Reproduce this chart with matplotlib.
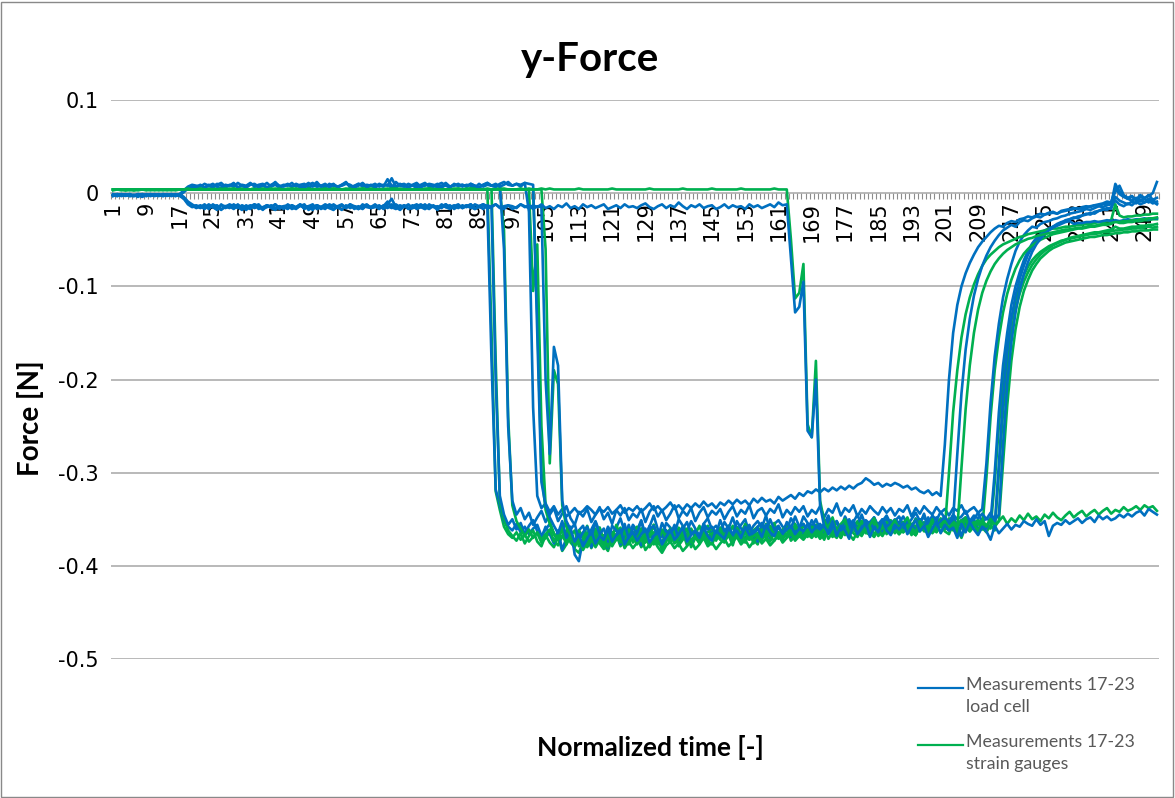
import numpy as np
import matplotlib
matplotlib.use("Agg")
import matplotlib.pyplot as plt
from matplotlib.lines import Line2D
from matplotlib.patches import Rectangle

# normalized time steps 1..252, labelled every 8th step
categories = list(range(1, 253))
tick_categories = list(range(1, 250, 8))
y_ticks = [0.1, 0.0, -0.1, -0.2, -0.3, -0.4, -0.5]
y_tick_labels = ["0.1", "0", "-0.1", "-0.2", "-0.3", "-0.4", "-0.5"]
legend_labels = ["Measurements 17-23\nload cell", "Measurements 17-23\nstrain gauges"]

# y-force in mN, rows of 21 steps (1-21, 22-42, ...)
# load cell, measurements 17-23
lc17 = [-2,-3,-2,-1,-3,-2,-2,-4,-2,-1,-3,-2,-2,-3,-1,-2,-3,-6,-12,-15,-14,
        -16,-13,-17,-12,-15,-18,-14,-13,-16,-12,-17,-15,-13,-16,-14,-18,-13,-15,-12,-16,-14,
        -13,-17,-15,-12,-16,-14,-18,-13,-15,-17,-12,-14,-16,-13,-15,-12,-17,-14,-16,-13,-15,
        -12,-16,-14,-9,-15,-17,-13,-15,-12,-16,-14,-13,-17,-12,-15,-14,-16,-12,-15,-13,-16,
        -13,-15,-12,-16,-14,-12,-14,-180,-318,-335,-352,-358,-362,-355,-364,-358,-366,-360,-356,-368,-361,
        -355,-366,-372,-360,-353,-368,-375,-362,-357,-370,-361,-352,-364,-371,-358,-366,-359,-349,-363,-368,-356,
        -362,-351,-367,-358,-346,-361,-369,-354,-359,-366,-350,-357,-363,-352,-360,-368,-355,-349,-361,-357,-364,
        -353,-360,-348,-362,-356,-350,-365,-357,-352,-359,-346,-363,-355,-351,-358,-362,-349,-356,-360,-347,-354,
        -359,-350,-361,-355,-346,-358,-352,-363,-349,-356,-351,-360,-345,-357,-353,-348,-361,-354,-350,-358,-352,
        -347,-356,-351,-360,-349,-355,-344,-358,-352,-348,-357,-350,-354,-346,-359,-351,-348,-355,-350,-343,-353,
        -349,-352,-300,-235,-185,-150,-120,-100,-85,-72,-62,-54,-48,-44,-40,-38,-36,-33,-31,-30,-28,
        -27,-25,-24,-22,-23,-20,-19,-17,-18,-15,-8,-12,-14,-11,-13,-9,-12,-10,-8,-11,-9]
lc18 = [-3,-2,-1,-2,-3,-3,-1,-2,-2,-3,-2,-1,-3,-2,-2,-3,-2,-5,-10,-13,-16,
        -14,-17,-13,-15,-18,-12,-16,-14,-17,-13,-15,-18,-14,-12,-17,-15,-13,-16,-18,-14,-15,
        -17,-13,-16,-14,-12,-18,-15,-13,-17,-14,-16,-12,-15,-18,-13,-16,-14,-17,-12,-15,-16,
        -14,-17,-13,-16,-12,-15,-18,-14,-16,-13,-17,-15,-12,-16,-14,-18,-13,-15,-17,-14,-12,
        -16,-13,-15,-17,-14,-12,-16,-15,-200,-325,-345,-356,-350,-361,-354,-366,-357,-351,-363,-370,-358,
        -366,-376,-362,-383,-370,-358,-388,-395,-372,-364,-380,-368,-359,-374,-381,-366,-360,-377,-369,-356,-371,
        -364,-378,-369,-357,-373,-366,-380,-362,-371,-358,-375,-367,-361,-376,-365,-370,-357,-372,-363,-368,-359,
        -370,-362,-375,-358,-366,-371,-360,-368,-374,-356,-365,-370,-359,-367,-362,-355,-369,-363,-358,-366,-361,
        -356,-364,-359,-368,-352,-361,-366,-357,-363,-350,-360,-365,-354,-359,-362,-351,-358,-364,-355,-360,-353,
        -361,-356,-350,-359,-363,-352,-357,-348,-360,-355,-351,-358,-362,-349,-356,-368,-353,-359,-350,-361,-354,
        -360,-348,-356,-290,-220,-170,-135,-110,-92,-78,-66,-58,-51,-46,-42,-39,-36,-34,-32,-29,-28,
        -26,-27,-24,-23,-21,-22,-19,-18,-16,-17,-4,-8,-10,-12,-9,-11,-7,-10,-6,-9,-12]
lc19 = [-2,-1,-3,-2,-2,-3,-1,-2,-3,-2,-1,-2,-3,-2,-2,-1,-2,2,6,8,7,
        9,6,8,10,7,5,9,8,11,6,8,7,10,9,6,8,11,7,9,6,8,
        10,7,9,6,8,11,7,9,8,6,10,8,7,9,12,6,8,10,7,9,8,
        6,9,7,15,8,6,9,10,7,8,6,9,11,7,8,10,6,9,7,8,10,
        7,9,8,6,10,7,9,8,7,9,-60,-250,-330,-345,-338,-350,-343,-356,-348,-341,-353,
        -345,-338,-352,-344,-336,-349,-356,-342,-347,-339,-353,-345,-337,-350,-343,-355,-340,-346,-338,-351,-344,
        -348,-339,-353,-342,-336,-347,-340,-351,-344,-335,-349,-341,-346,-338,-352,-343,-337,-348,-341,-345,-339,
        -350,-342,-336,-347,-340,-344,-335,-349,-341,-338,-346,-339,-343,-334,-348,-340,-345,-337,-342,-336,-347,
        -340,-344,-336,-348,-339,-343,-333,-346,-338,-342,-335,-347,-339,-344,-336,-341,-345,-337,-343,-338,-346,
        -339,-342,-335,-347,-338,-344,-336,-341,-345,-337,-343,-339,-346,-338,-341,-335,-344,-340,-337,-343,-339,
        -290,-225,-175,-140,-112,-92,-76,-62,-52,-45,-40,-36,-37,-33,-31,-30,-28,-27,-25,-24,-22,
        -21,-20,-19,-17,-18,-16,-14,-15,-13,-12,10,2,-3,-6,-4,-7,-2,-5,-3,0,12]
lc20 = [-2,-3,-1,-2,-3,-2,-2,-1,-3,-2,-2,-3,-1,-2,-3,-2,-1,3,7,9,8,
        7,10,8,6,9,11,7,8,10,6,9,8,11,7,9,10,6,8,12,7,9,
        8,11,7,9,10,6,8,12,7,9,8,10,6,9,11,8,7,10,9,6,8,
        10,7,9,8,16,7,10,8,6,9,11,7,8,10,9,6,8,11,7,9,8,
        9,7,10,8,6,9,11,8,7,10,12,9,8,10,7,11,-20,-230,-325,-338,-333,
        -342,-336,-345,-339,-347,-343,-338,-344,-341,-336,-340,-345,-339,-342,-337,-344,-340,-335,-343,-338,-341,
        -336,-342,-338,-333,-340,-336,-341,-337,-332,-339,-335,-340,-334,-338,-333,-337,-331,-336,-333,-338,-332,
        -335,-330,-334,-329,-333,-330,-335,-328,-332,-327,-331,-329,-333,-326,-330,-327,-324,-328,-322,-325,-320,
        -322,-318,-321,-317,-320,-316,-319,-315,-318,-314,-317,-313,-311,-306,-309,-313,-311,-315,-312,-314,-311,
        -313,-316,-314,-318,-316,-320,-322,-319,-324,-321,-325,-270,-200,-150,-120,-100,-86,-75,-66,-58,-52,
        -47,-42,-38,-35,-36,-32,-30,-31,-28,-27,-25,-26,-24,-22,-23,-21,-20,-22,-19,-18,-17,
        -16,-17,-15,-14,-15,-13,-12,-11,-9,-10,2,8,-2,-5,-3,-8,-4,-6,-2,-7,-5]
lc21 = [-1,-2,-3,-2,-1,-3,-2,-2,-3,-1,-2,-2,-3,-2,-1,-3,-2,1,5,7,6,
        8,6,9,7,10,8,6,9,7,11,8,6,9,10,7,8,6,9,11,8,7,
        9,7,10,8,6,9,11,7,8,10,6,9,7,8,10,9,6,8,11,7,9,
        7,10,8,9,6,12,8,7,10,8,9,6,10,8,7,9,11,8,6,10,8,
        9,7,10,8,6,9,11,8,10,7,9,12,8,10,9,11,10,9,-150,-310,-335,
        -348,-357,-365,-352,-370,-361,-355,-372,-364,-358,-369,-353,-366,-360,-374,-357,-362,-368,-355,-371,-359,
        -365,-352,-368,-361,-357,-370,-354,-363,-367,-356,-372,-360,-353,-366,-362,-369,-355,-361,-358,-366,-351,
        -363,-357,-368,-352,-360,-365,-356,-369,-358,-354,-364,-350,-361,-357,-366,-353,-360,-347,-358,-355,-362,
        -351,-359,-355,-362,-349,-357,-352,-360,-347,-356,-353,-345,-358,-351,-355,-348,-357,-352,-346,-355,-350,
        -354,-347,-356,-350,-343,-352,-348,-355,-346,-351,-342,-349,-353,-345,-350,-347,-341,-352,-346,-349,-344,
        -350,-343,-351,-345,-270,-205,-160,-128,-104,-87,-74,-63,-55,-49,-44,-40,-37,-35,-33,-31,-30,
        -33,-32,-32,-31,-31,-30,-31,-30,-29,-30,-29,-30,-29,-28,-29,-28,-28,-27,-28,-27,-27]
lc22 = [-3,-1,-2,-3,-2,-2,-4,-1,-2,-3,-2,-3,-1,-2,-2,-3,-1,-4,-9,-12,-15,
        -13,-16,-12,-15,-17,-13,-14,-16,-12,-15,-18,-13,-16,-14,-12,-17,-15,-13,-16,-14,-17,
        -12,-15,-17,-13,-16,-14,-12,-17,-15,-13,-16,-18,-14,-12,-16,-13,-15,-17,-14,-12,-16,
        -15,-13,-17,-14,-16,-12,-15,-13,-17,-16,-14,-12,-15,-17,-13,-16,-14,-12,-16,-15,-13,
        -16,-14,-12,-17,-15,-13,-16,-14,-12,-15,-17,-13,-14,-16,-12,-15,-13,-17,-14,-15,-200,
        -280,-165,-185,-330,-352,-361,-374,-366,-379,-371,-363,-376,-368,-372,-360,-374,-367,-361,-377,-369,-364,
        -373,-366,-360,-375,-368,-363,-377,-369,-361,-372,-366,-358,-374,-367,-363,-370,-359,-368,-373,-362,-367,
        -371,-359,-366,-362,-370,-358,-367,-363,-360,-369,-356,-364,-368,-358,-365,-361,-357,-366,-360,-363,-355,
        -364,-358,-361,-355,-366,-359,-354,-362,-357,-360,-352,-363,-356,-359,-353,-361,-355,-350,-358,-354,-360,
        -353,-359,-351,-356,-362,-350,-357,-353,-348,-358,-352,-347,-355,-350,-280,-215,-168,-135,-110,-92,-78,
        -67,-58,-51,-45,-40,-37,-34,-36,-31,-29,-30,-27,-25,-26,-23,-22,-21,-22,-20,-19,-18,
        -17,-16,-17,-15,-14,-13,-14,-12,-11,-10,5,-1,-4,-6,-8,-5,-9,-6,-10,-7,-11]
lc23 = [-2,-3,-2,-2,-1,-3,-2,-3,-1,-2,-3,-2,-2,-1,-3,-2,-2,-5,-11,-14,-13,
        -15,-12,-16,-14,-13,-17,-15,-12,-14,-16,-13,-15,-17,-12,-14,-16,-13,-15,-12,-17,-14,
        -16,-13,-15,-12,-17,-14,-16,-13,-15,-12,-14,-17,-15,-13,-16,-12,-14,-15,-17,-13,-15,
        -13,-16,-14,-12,-6,-15,-17,-13,-16,-14,-12,-15,-17,-13,-14,-16,-12,-15,-13,-17,-14,
        -15,-13,-16,-12,-14,-17,-13,-15,-12,-16,-14,-13,-17,-15,-12,-14,-16,-13,-15,-12,-16,
        -14,-17,-13,-15,-11,-16,-14,-17,-12,-15,-13,-16,-14,-12,-17,-15,-13,-16,-12,-15,-14,
        -16,-13,-11,-15,-17,-14,-12,-16,-13,-15,-10,-14,-17,-13,-15,-12,-16,-14,-13,-17,-15,
        -12,-16,-13,-15,-14,-17,-12,-15,-13,-16,-14,-12,-15,-10,-13,-12,-70,-128,-122,-95,-255,
        -262,-200,-335,-358,-364,-352,-368,-357,-362,-371,-355,-366,-360,-353,-369,-358,-364,-350,-362,-367,-356,
        -361,-354,-366,-358,-351,-363,-357,-369,-360,-352,-365,-356,-362,-359,-370,-355,-364,-353,-361,-367,-358,
        -363,-372,-357,-365,-360,-355,-361,-356,-358,-352,-355,-357,-350,-356,-352,-368,-357,-354,-356,-351,-355,
        -352,-349,-354,-350,-348,-353,-346,-350,-347,-351,-349,-345,-348,-344,-347,-343,-341,-346,-339,-342,-345]

# strain gauges, measurements 17-23
sg17 = [4,4,4,3,4,4,4,4,3,4,4,4,4,4,3,4,4,4,4,4,4,
        4,4,5,4,4,4,4,5,4,4,4,4,4,5,4,4,4,4,4,5,4,
        4,4,4,4,5,4,4,4,4,4,5,4,4,4,4,4,4,5,4,4,4,
        4,4,5,4,4,4,4,4,5,4,4,4,4,4,4,5,4,4,4,4,4,
        4,4,5,4,4,4,4,-150,-320,-340,-358,-366,-370,-364,-372,-367,-374,-369,-365,-375,-370,
        -364,-373,-378,-368,-362,-375,-380,-370,-366,-377,-369,-361,-372,-378,-366,-373,-367,-359,-371,-376,-364,
        -370,-360,-374,-366,-356,-369,-376,-362,-367,-373,-359,-365,-371,-360,-368,-375,-363,-357,-369,-365,-371,
        -361,-368,-357,-370,-364,-358,-372,-365,-360,-367,-355,-370,-363,-359,-366,-369,-357,-364,-368,-356,-362,
        -367,-358,-369,-363,-355,-366,-360,-370,-357,-364,-359,-367,-354,-365,-361,-356,-368,-362,-358,-366,-360,
        -355,-364,-359,-367,-357,-363,-353,-366,-360,-356,-364,-358,-362,-354,-366,-359,-356,-363,-358,-352,-361,
        -357,-360,-310,-250,-200,-165,-136,-115,-100,-88,-79,-72,-67,-63,-60,-57,-55,-53,-51,-50,-48,
        -47,-46,-45,-44,-43,-42,-42,-41,-40,-39,-36,-38,-38,-37,-36,-36,-35,-35,-34,-34,-33]
sg18 = [3,4,4,4,4,3,4,4,4,4,4,3,4,4,4,4,4,4,4,4,4,
        4,5,4,4,4,4,4,4,5,4,4,4,4,4,4,4,5,4,4,4,4,
        4,4,4,5,4,4,4,4,4,4,4,5,4,4,4,4,4,4,4,5,4,
        5,4,4,4,4,4,4,5,4,4,4,4,4,5,4,4,4,4,4,4,5,
        4,4,4,4,5,4,4,4,-180,-330,-350,-362,-368,-373,-365,-376,-368,-362,-374,-379,-367,
        -375,-380,-369,-384,-377,-366,-382,-386,-374,-368,-381,-372,-365,-378,-384,-370,-366,-379,-373,-362,-375,
        -369,-380,-374,-363,-377,-371,-383,-368,-375,-364,-378,-372,-366,-380,-370,-374,-362,-376,-368,-372,-365,
        -374,-367,-378,-363,-371,-375,-365,-372,-377,-362,-369,-374,-364,-371,-367,-360,-373,-368,-363,-370,-366,
        -362,-369,-364,-372,-358,-366,-370,-362,-367,-356,-365,-369,-359,-364,-367,-357,-363,-368,-360,-365,-358,
        -366,-361,-356,-364,-367,-358,-362,-354,-365,-360,-357,-363,-366,-355,-361,-370,-358,-363,-356,-365,-359,
        -364,-356,-362,-300,-235,-185,-150,-125,-108,-95,-85,-77,-71,-66,-62,-59,-56,-54,-52,-50,-49,
        -48,-47,-46,-45,-44,-44,-43,-42,-42,-41,-40,-40,-39,-39,-38,-38,-37,-37,-36,-37,-36]
sg19 = [4,4,3,4,4,4,4,4,4,3,4,4,4,4,4,4,4,4,4,5,4,
        4,4,4,4,5,4,4,4,4,4,4,5,4,4,4,4,4,4,5,4,4,
        4,5,4,4,4,4,4,4,5,4,4,4,4,4,5,4,4,4,4,4,4,
        4,4,4,5,4,4,4,4,4,4,5,4,4,4,4,4,5,4,4,4,4,
        4,4,5,4,4,4,4,4,5,4,-40,-240,-335,-352,-360,-368,-361,-370,-364,-372,-366,
        -361,-374,-367,-358,-371,-365,-377,-362,-369,-357,-372,-366,-359,-373,-364,-370,-356,-368,-374,-361,-367,
        -358,-371,-364,-369,-356,-372,-363,-367,-360,-374,-365,-358,-370,-362,-366,-357,-371,-364,-359,-368,-362,
        -366,-357,-370,-361,-365,-355,-369,-362,-358,-367,-360,-364,-354,-368,-361,-357,-366,-359,-363,-355,-367,
        -360,-356,-365,-358,-362,-353,-366,-359,-355,-363,-357,-361,-352,-364,-358,-354,-362,-356,-360,-351,-363,
        -357,-353,-361,-355,-359,-350,-363,-356,-352,-360,-354,-358,-349,-362,-355,-351,-359,-353,-357,-350,-360,
        -305,-240,-190,-155,-128,-108,-93,-81,-72,-65,-60,-56,-53,-50,-48,-46,-44,-43,-42,-41,-40,
        -39,-38,-38,-37,-36,-36,-35,-34,-34,-33,-30,-32,-32,-31,-31,-30,-30,-29,-29,-28,-28]
sg20 = [4,4,4,4,3,4,4,4,4,4,4,4,3,4,4,4,4,4,4,4,5,
        4,4,4,4,4,5,4,4,4,4,4,4,4,5,4,4,4,4,4,4,4,
        5,4,4,4,4,4,4,5,4,4,4,4,4,4,4,5,4,4,4,4,4,
        4,4,4,4,5,4,4,4,4,4,4,4,5,4,4,4,4,4,4,5,4,
        4,4,5,4,4,4,4,4,4,5,4,4,4,4,4,4,4,-105,-55,-250,-335,
        -352,-366,-372,-368,-375,-364,-378,-371,-367,-380,-373,-369,-376,-382,-370,-377,-372,-368,-379,-374,-381,
        -375,-370,-383,-377,-372,-380,-386,-378,-374,-381,-376,-384,-379,-373,-382,-377,-370,-379,-375,-382,-376,
        -371,-379,-374,-369,-377,-372,-380,-374,-368,-376,-371,-378,-373,-367,-375,-370,-365,-373,-368,-372,-366,
        -370,-364,-371,-366,-362,-369,-364,-370,-361,-366,-372,-363,-368,-360,-365,-369,-362,-367,-359,-364,-361,
        -366,-358,-363,-360,-367,-357,-362,-365,-359,-364,-356,-361,-300,-235,-190,-155,-130,-112,-98,-87,-78,
        -71,-66,-62,-58,-55,-53,-51,-49,-47,-46,-44,-43,-42,-41,-40,-39,-38,-38,-37,-36,-36,
        -35,-34,-34,-33,-33,-32,-31,-31,-30,-29,-12,-24,-26,-25,-25,-24,-24,-23,-23,-22,-22]
sg21 = [4,4,4,4,4,4,3,4,4,4,4,4,4,4,4,3,4,4,4,4,4,
        4,4,4,5,4,4,4,4,4,4,5,4,4,4,4,4,4,4,4,5,4,
        4,4,4,4,4,5,4,4,4,4,4,4,5,4,4,4,4,4,4,4,5,
        4,4,4,4,4,4,5,4,4,4,4,4,4,4,5,4,4,4,4,4,4,
        4,4,4,5,4,4,4,4,4,5,4,4,4,4,4,4,5,4,-130,-300,-340,
        -355,-365,-372,-360,-377,-368,-362,-379,-371,-365,-374,-360,-373,-367,-380,-364,-369,-375,-362,-377,-366,
        -372,-360,-375,-368,-364,-377,-361,-370,-374,-363,-379,-367,-360,-373,-369,-376,-362,-368,-365,-373,-359,
        -370,-364,-375,-359,-367,-372,-363,-376,-365,-361,-371,-357,-368,-364,-373,-360,-367,-355,-365,-362,-369,
        -358,-366,-362,-369,-356,-364,-359,-367,-354,-363,-360,-352,-365,-358,-362,-355,-364,-359,-353,-362,-357,
        -361,-354,-363,-357,-350,-359,-355,-362,-353,-358,-349,-356,-360,-352,-357,-354,-348,-359,-353,-356,-351,
        -357,-350,-358,-352,-290,-228,-180,-146,-122,-105,-93,-83,-76,-70,-66,-62,-59,-57,-55,-53,-52,
        -51,-50,-49,-48,-47,-47,-46,-45,-45,-44,-43,-43,-42,-42,-41,-41,-40,-40,-40,-39,-39]
sg22 = [4,4,4,4,4,3,4,4,4,4,4,4,4,3,4,4,4,4,4,4,4,
        5,4,4,4,4,4,4,4,5,4,4,4,4,4,4,4,4,5,4,4,4,
        4,4,5,4,4,4,4,4,4,4,4,5,4,4,4,4,4,4,5,4,4,
        4,4,4,4,4,5,4,4,4,4,4,4,4,5,4,4,4,4,4,4,5,
        4,4,4,4,4,4,5,4,4,4,4,4,4,4,5,4,4,4,4,4,-60,
        -290,-190,-205,-335,-358,-368,-377,-371,-383,-375,-369,-380,-372,-377,-366,-379,-371,-367,-381,-374,-369,
        -377,-371,-366,-380,-373,-368,-381,-374,-367,-376,-371,-364,-378,-372,-368,-375,-365,-373,-377,-367,-372,
        -375,-365,-371,-368,-374,-363,-372,-368,-365,-373,-362,-369,-373,-364,-370,-366,-362,-371,-365,-368,-361,
        -369,-363,-366,-360,-371,-364,-359,-367,-362,-365,-357,-368,-361,-364,-358,-366,-360,-356,-363,-359,-365,
        -358,-364,-356,-361,-367,-355,-362,-358,-353,-363,-357,-352,-360,-355,-361,-295,-232,-185,-150,-125,-107,
        -94,-84,-76,-70,-65,-61,-58,-55,-53,-51,-49,-48,-46,-45,-44,-43,-42,-41,-40,-39,-39,
        -38,-37,-37,-36,-35,-35,-34,-33,-33,-32,-31,-31,-30,-30,-29,-29,-28,-28,-27,-27,-26]
sg23 = [4,4,4,3,4,4,4,4,4,4,3,4,4,4,4,4,4,4,5,4,4,
        4,4,4,4,4,4,5,4,4,4,4,4,4,4,4,5,4,4,4,4,4,
        4,5,4,4,4,4,4,4,4,5,4,4,4,4,4,4,4,4,5,4,4,
        4,4,4,4,5,4,4,4,4,4,4,4,4,5,4,4,4,4,4,4,4,
        4,5,4,4,4,4,4,4,4,4,5,4,4,4,4,4,4,4,4,5,4,
        5,4,4,4,4,4,4,5,4,4,4,4,4,4,4,5,4,4,4,4,4,
        4,4,4,5,4,4,4,4,4,4,4,5,4,4,4,4,4,4,5,4,4,
        4,4,4,4,5,4,4,4,4,4,4,4,5,4,4,4,-50,-113,-107,-76,-248,
        -262,-180,-330,-352,-360,-348,-363,-355,-350,-366,-357,-361,-352,-364,-356,-349,-360,-354,-366,-358,-351,
        -362,-355,-348,-359,-364,-352,-358,-361,-350,-363,-356,-352,-360,-354,-366,-357,-351,-361,-355,-362,-353,
        -358,-350,-356,-352,-347,-355,-349,-353,-346,-351,-344,-350,-347,-352,-345,-349,-343,-348,-351,-346,-342,
        -348,-344,-341,-347,-343,-340,-345,-341,-338,-344,-340,-342,-337,-341,-339,-336,-340,-335,-338,-336,-341]

load_cell = [lc17, lc18, lc19, lc20, lc21, lc22, lc23]
strain_gauges = [sg17, sg18, sg19, sg20, sg21, sg22, sg23]
for s in load_cell + strain_gauges:
    assert len(s) == len(categories), len(s)

BLUE = "#0070C0"
GREEN = "#00B050"
GRID = "#A6A6A6"

plt.rcParams["font.family"] = ["DejaVu Sans"]

fig = plt.figure(figsize=(11.75, 7.98), dpi=100)
ax = fig.add_axes([111 / 1175, 139 / 798, 1048 / 1175, 559 / 798])

# one measurement at a time: strain gauge first, its load cell on top
for lc, sg in zip(load_cell, strain_gauges):
    ax.plot(categories, np.array(sg) / 1000, color=GREEN, lw=1.9, zorder=3)
    ax.plot(categories, np.array(lc) / 1000, color=BLUE, lw=1.9, zorder=3)

ax.set_xlim(0.5, len(categories) + 0.5)
ax.set_ylim(-0.5, 0.1)

# horizontal gridlines, the zero line is the category axis
for y in y_ticks:
    if y != 0:
        ax.axhline(y, color=GRID, lw=1.1, zorder=1)

for side in ["left", "right", "top"]:
    ax.spines[side].set_visible(False)
ax.spines["bottom"].set_position(("data", 0))
ax.spines["bottom"].set_color(GRID)
ax.spines["bottom"].set_linewidth(1.1)
ax.spines["bottom"].set_zorder(2)

ax.set_xticks(tick_categories)
ax.set_xticklabels([str(c) for c in tick_categories], rotation=90, fontsize=15)
ax.set_xticks(np.arange(0.5, len(categories) + 1, 1), minor=True)
ax.tick_params(axis="x", which="major", length=0, pad=6)
ax.tick_params(axis="x", which="minor", length=4, width=0.8, color="#8C8C8C")

ax.set_yticks(y_ticks)
ax.set_yticklabels(y_tick_labels, fontsize=15)
ax.tick_params(axis="y", length=0, pad=9)

fig.text(590 / 1175, 1 - 60 / 798, "y-Force", family="Lato", fontweight="bold",
         fontsize=29, ha="center", va="center")
fig.text(30 / 1175, 1 - 418 / 798, "Force [N]", family="Lato", fontweight="bold",
         fontsize=20, rotation=90, ha="center", va="center")
fig.text(650 / 1175, 1 - 747 / 798, "Normalized time [-]", family="Lato", fontweight="bold",
         fontsize=19, ha="center", va="center")

# legend, drawn by hand so the line sits on the first text row
for (color, label), y0 in zip(zip([BLUE, GREEN], legend_labels), [688, 745]):
    fig.add_artist(Line2D([918 / 1175, 963 / 1175], [1 - y0 / 798] * 2, color=color, lw=1.6))
    fig.text(966 / 1175, 1 - (y0 - 11) / 798, label, family="Lato", fontsize=12.8,
             color="#595959", ha="left", va="top", linespacing=1.5)

fig.add_artist(Rectangle((0.001, 0.001), 0.997, 0.997, transform=fig.transFigure,
                         fill=False, edgecolor="#898989", lw=1))

fig.savefig("out.png", dpi=100)
